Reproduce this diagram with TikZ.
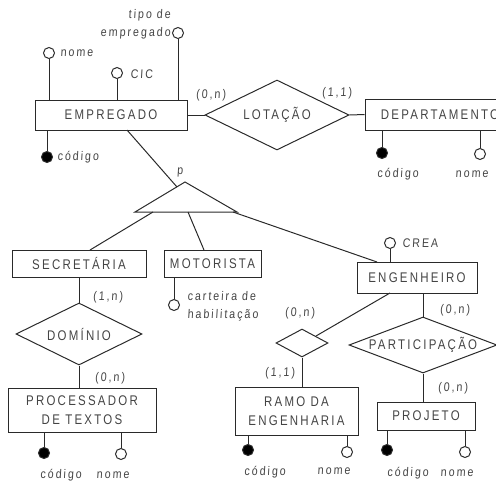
\documentclass[tikz,border=0pt]{standalone}
\usepackage{fontspec}
\setmainfont{Liberation Sans}
\newfontfamily\erfont[LetterSpace=16, FakeStretch=0.82]{Liberation Sans}
\newfontfamily\labfont[LetterSpace=16, FakeStretch=0.85, FakeSlant=0.06]{Liberation Sans}
\usetikzlibrary{shapes.geometric}
\definecolor{ink}{HTML}{2A2A2A}
\definecolor{txt}{HTML}{444444}
\tikzset{
  ent/.style={draw=ink, line width=1pt, rectangle, inner sep=0pt, text=txt,
    font=\erfont\fontsize{14}{19}\selectfont, align=center},
  rel/.style={draw=ink, line width=1pt, diamond, inner sep=0pt, text=txt},
  attr/.style={draw=ink, line width=1pt, circle, fill=white, minimum size=11pt, inner sep=0pt},
  keyattr/.style={draw=ink, line width=1pt, circle, fill=black, minimum size=11pt, inner sep=0pt},
  lab/.style={inner sep=0pt, text=txt, font=\labfont\fontsize{12.5}{18}\selectfont},
  card/.style={inner sep=0pt, text=txt, font=\labfont\fontsize{12.5}{14}\selectfont},
  relname/.style={text=txt, font=\erfont\fontsize{14}{15}\selectfont},
}
\begin{document}
\begin{tikzpicture}[x=1pt, y=-1pt, color=ink, line width=1pt]
\useasboundingbox (0,0) rectangle (496,482);
\clip (0,0) rectangle (496,482);

% ---------- EMPREGADO ----------
\node[ent, minimum width=152pt, minimum height=30pt] (emp) at (111,115) {EMPREGADO};
\node[attr] (empnome) at (49,53) {};
\node[lab, anchor=west] (empnomel) at (60,53) {nome};
\node[attr] (empcic) at (117,73) {};
\node[lab, anchor=west] (empcicl) at (130,74) {CIC};
\node[attr] (emptipo) at (178,33) {};
\node[lab, anchor=east, align=right] (emptipol) at (171,24) {tipo de\\empregado};
\node[keyattr] (empcod) at (47,157) {};
\node[lab, anchor=west] (empcodl) at (57,157) {código};
\draw (emp.north -| empnome) -- (empnome);
\draw (emp.north -| empcic) -- (empcic);
\draw (emp.north -| emptipo) -- (emptipo);
\draw (emp.south -| empcod) -- (empcod);

% ---------- LOTAÇÃO ----------
\node[rel, minimum width=144pt, minimum height=70pt, label={[relname]center:LOTAÇÃO}] (lot) at (277,115) {};
\node[card] (c1) at (211,95) {(0,n)};
\node[card] (c2) at (337,93) {(1,1)};
\node[ent, minimum width=150pt, minimum height=31pt] (dep) at (440,114.5) {DEPARTAMENTO};
\draw (emp.east) -- (lot.west);
\draw (lot.east) -- (dep.west);
\node[keyattr] (depcod) at (382,153) {};
\node[lab] (depcodl) at (398,174) {código};
\node[attr] (depnome) at (480,154) {};
\node[lab] (depnomel) at (472,174) {nome};
\draw (dep.south -| depcod) -- (depcod);
\draw (dep.south -| depnome) -- (depnome);

% ---------- specialization triangle ----------
\coordinate (tA) at (185,182);
\coordinate (tL) at (135,212);
\coordinate (tR) at (237,212);
\draw (tA) -- (tL) -- (tR) -- cycle;
\coordinate (tin) at (177,187);
\coordinate (t1) at (153,212);
\coordinate (t2) at (188,212);
\coordinate (t3) at (233,212);
\coordinate (empb) at (127,130);
\draw (empb) -- (tin);
\node[card] (plab) at (180,172) {p};

\node[ent, minimum width=134pt, minimum height=27pt] (sec) at (79,263.5) {SECRETÁRIA};
\node[ent, minimum width=97pt, minimum height=27pt] (mot) at (212.5,263.5) {MOTORISTA};
\node[ent, minimum width=120pt, minimum height=31pt] (eng) at (417,277.5) {ENGENHEIRO};
\coordinate (sect) at (90,250);
\coordinate (mott) at (204,250);
\coordinate (engt) at (377,262);
\draw (t1) -- (sect);
\draw (t2) -- (mott);
\draw (t3) -- (engt);

% MOTORISTA attribute
\node[attr] (motcart) at (174,305) {};
\node[lab, anchor=west, align=left] (motcartl) at (187,306) {carteira de\\habilitação};
\draw (mot.south -| motcart) -- (motcart);

% ENGENHEIRO attribute
\node[attr] (engcrea) at (390,243) {};
\node[lab, anchor=west] (engcreal) at (402,243) {CREA};
\draw (eng.north -| engcrea) -- (engcrea);

% ---------- DOMÍNIO ----------
\node[rel, minimum width=126pt, minimum height=62pt, label={[relname]center:DOMÍNIO}] (dom) at (79,334) {};
\node[card] (c3) at (108,297) {(1,n)};
\node[card] (c4) at (110,378) {(0,n)};
\node[ent, minimum width=148pt, minimum height=44pt] (proc) at (82,410) {PROCESSADOR\\DE TEXTOS};
\draw (sec.south -| dom.north) -- (dom.north);
\draw (dom.south) -- (proc.north -| dom.south);
\node[keyattr] (proccod) at (44,453) {};
\node[attr] (procnome) at (121,454) {};
\node[lab] (proccodl) at (61,475) {código};
\node[lab] (procnomel) at (113,475) {nome};
\draw (proc.south -| proccod) -- (proccod);
\draw (proc.south -| procnome) -- (procnome);

% ---------- small relationship ----------
\node[rel, minimum width=52pt, minimum height=28pt] (sm) at (302,343) {};
\coordinate (engb1) at (390,293);
\coordinate (smin) at (316,336);
\draw (engb1) -- (smin);
\node[card] (c5) at (300,313) {(0,n)};
\node[card] (c6) at (280,373) {(1,1)};
\node[ent, minimum width=123pt, minimum height=48pt] (ramo) at (296.5,411) {RAMO DA\\ENGENHARIA};
\draw (sm.south) -- (ramo.north -| sm.south);
\node[keyattr] (ramocod) at (248,450) {};
\node[attr] (ramonome) at (347,452) {};
\node[lab] (ramocodl) at (265,472) {código};
\node[lab] (ramonomel) at (334,471) {nome};
\draw (ramo.south -| ramocod) -- (ramocod);
\draw (ramo.south -| ramonome) -- (ramonome);

% ---------- PARTICIPAÇÃO ----------
\node[rel, minimum width=148pt, minimum height=56pt, label={[relname]center:PARTICIPAÇÃO}] (part) at (423,345) {};
\draw (eng.south -| part.north) -- (part.north);
\node[card] (c7) at (455,310) {(0,n)};
\node[card] (c8) at (453,388) {(0,n)};
\node[ent, minimum width=98pt, minimum height=28pt] (proj) at (426,416) {PROJETO};
\draw (part.south) -- (proj.north -| part.south);
\node[keyattr] (projcod) at (387,450) {};
\node[attr] (projnome) at (465,452) {};
\node[lab] (projcodl) at (408,473) {código};
\node[lab] (projnomel) at (457,473) {nome};
\draw (proj.south -| projcod) -- (projcod);
\draw (proj.south -| projnome) -- (projnome);
\end{tikzpicture}
\end{document}
